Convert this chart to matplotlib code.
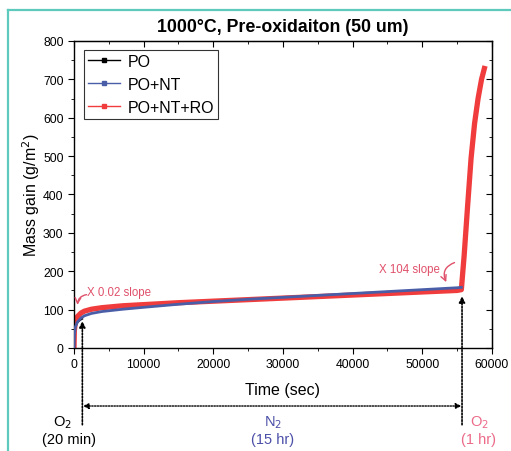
import matplotlib
matplotlib.use('Agg')
import matplotlib.pyplot as plt
from matplotlib.lines import Line2D
from matplotlib.ticker import MultipleLocator

# data (time in s, mass gain in g/m^2)
po_time = [0, 60, 200, 400, 700, 1000, 1200]
po_mass = [0, 35, 55, 64, 70, 74, 76]

po_nt_time = [0, 60, 200, 500, 1000, 1500, 2500, 4000, 7000, 10000, 15000,
              20000, 25000, 30000, 35000, 40000, 45000, 50000, 55000, 55600]
po_nt_mass = [0, 35, 55, 68, 78, 84, 90, 95, 101, 106, 114,
              121, 127, 132, 137, 142, 147, 152, 157, 158]

po_nt_ro_time = [0, 50, 200, 500, 1000, 1500, 2500, 4000, 7000, 10000, 15000,
                 20000, 25000, 30000, 35000, 40000, 45000, 50000, 55000, 55600,
                 56000, 56500, 57000, 57500, 58000, 58500, 59000]
po_nt_ro_mass = [0, 45, 68, 82, 91, 96, 101, 105, 110, 113, 118,
                 122, 126, 130, 134, 138, 142, 146, 150, 152,
                 240, 370, 495, 585, 650, 700, 735]

series_names = ['PO', 'PO+NT', 'PO+NT+RO']
series_colors = ['black', '#4a5ea8', '#f03c3c']

plt.rcParams['font.family'] = ['Liberation Sans', 'DejaVu Sans']

fig = plt.figure(figsize=(5.11, 4.52), dpi=100)
ax = fig.add_axes([0.1448, 0.2279, 0.818, 0.6792])

ax.plot(po_nt_ro_time, po_nt_ro_mass, color=series_colors[2], lw=3.8, solid_capstyle='butt', zorder=2)
ax.plot(po_nt_time, po_nt_mass, color=series_colors[1], lw=2.0, zorder=3)
ax.plot(po_time, po_mass, color=series_colors[0], lw=1.2, zorder=1)

handles = [Line2D([], [], color=c, lw=1, marker='s', markersize=3) for c in series_colors]
leg = ax.legend(handles, series_names, loc='upper left', bbox_to_anchor=(0.024, 0.972),
                fontsize=11.5, frameon=True, fancybox=False, edgecolor='black',
                handlelength=2.0, borderpad=0.25, labelspacing=0.5, handletextpad=0.5,
                borderaxespad=0.0)
leg.get_frame().set_linewidth(0.8)

ax.set_xlim(0, 60000)
ax.set_ylim(0, 800)
ax.xaxis.set_major_locator(MultipleLocator(10000))
ax.xaxis.set_minor_locator(MultipleLocator(5000))
ax.yaxis.set_major_locator(MultipleLocator(100))
ax.yaxis.set_minor_locator(MultipleLocator(50))
ax.tick_params(which='both', direction='out', labelsize=8.8, top=False, right=False)
ax.tick_params(which='major', length=4)
ax.tick_params(which='minor', length=2)
for s in ax.spines.values():
    s.set_linewidth(1.0)

# inward ticks on top and right
sec_x = ax.secondary_xaxis('top')
sec_x.xaxis.set_major_locator(MultipleLocator(10000))
sec_x.xaxis.set_minor_locator(MultipleLocator(5000))
sec_x.tick_params(which='both', direction='in', labeltop=False)
sec_x.tick_params(which='major', length=4)
sec_x.tick_params(which='minor', length=2)
sec_y = ax.secondary_yaxis('right')
sec_y.yaxis.set_major_locator(MultipleLocator(100))
sec_y.yaxis.set_minor_locator(MultipleLocator(50))
sec_y.tick_params(which='both', direction='in', labelright=False)
sec_y.tick_params(which='major', length=4)
sec_y.tick_params(which='minor', length=2)

ax.set_xlabel('Time (sec)', fontsize=11.5, labelpad=8)
ax.set_ylabel('Mass gain (g/m$^2$)', fontsize=11.5, labelpad=1)
ax.set_title('1000°C, Pre-oxidaiton (50 um)', fontsize=12.8, fontweight='bold', pad=7)

# stage markers: dotted arrows
arrow_kw = dict(arrowstyle='-|>', linestyle=(0, (1, 1.0)), color='black', lw=1.2,
                mutation_scale=9, shrinkA=0, shrinkB=0)
ax.annotate('', xy=(1200, 70), xytext=(1200, -0.25),
            textcoords=('data', 'axes fraction'), arrowprops=arrow_kw, annotation_clip=False)
ax.annotate('', xy=(55700, 135), xytext=(55700, -0.25),
            textcoords=('data', 'axes fraction'), arrowprops=arrow_kw, annotation_clip=False)
ax.annotate('', xy=(1300, -0.189), xytext=(55600, -0.189), xycoords=('data', 'axes fraction'),
            textcoords=('data', 'axes fraction'),
            arrowprops=dict(arrowstyle='<|-|>', linestyle=(0, (1, 1.0)), color='black', lw=1.0,
                            mutation_scale=8, shrinkA=0, shrinkB=0),
            annotation_clip=False)

# stage labels
stage_kw = dict(xycoords=('data', 'axes fraction'), ha='center', va='center',
                fontsize=10.5, annotation_clip=False)
ax.annotate('O$_2$', xy=(-1700, -0.24), color='black', **stage_kw)
ax.annotate('(20 min)', xy=(-700, -0.296), color='black', **stage_kw)
ax.annotate('N$_2$', xy=(28550, -0.24), color='#4b4fa8', **stage_kw)
ax.annotate('(15 hr)', xy=(28550, -0.296), color='#4b4fa8', **stage_kw)
ax.annotate('O$_2$', xy=(58250, -0.24), color='#ec6a88', **stage_kw)
ax.annotate('(1 hr)', xy=(58000, -0.296), color='#ec6a88', **stage_kw)

# slope notes
note_color = '#e0506a'
ax.text(1900, 146, 'X 0.02 slope', color=note_color, fontsize=8.3, va='center', ha='left')
ax.annotate('', xy=(500, 105), xytext=(2200, 140),
            arrowprops=dict(arrowstyle='->', color=note_color, lw=1.0,
                            connectionstyle='arc3,rad=0.5'))
ax.text(43800, 205, 'X 104 slope', color=note_color, fontsize=8.3, va='center', ha='left')
ax.annotate('', xy=(53600, 165), xytext=(55000, 225),
            arrowprops=dict(arrowstyle='->', color=note_color, lw=1.0,
                            connectionstyle='arc3,rad=0.6'))

# teal frame of the original figure panel
teal = '#5ec9bd'
fig.add_artist(Line2D([8 / 511, 1], [1 - 11 / 452, 1 - 11 / 452], color=teal, lw=1.6))
fig.add_artist(Line2D([8 / 511, 8 / 511], [0, 1 - 11 / 452], color=teal, lw=1.6))

fig.savefig('out.png', dpi=100)
